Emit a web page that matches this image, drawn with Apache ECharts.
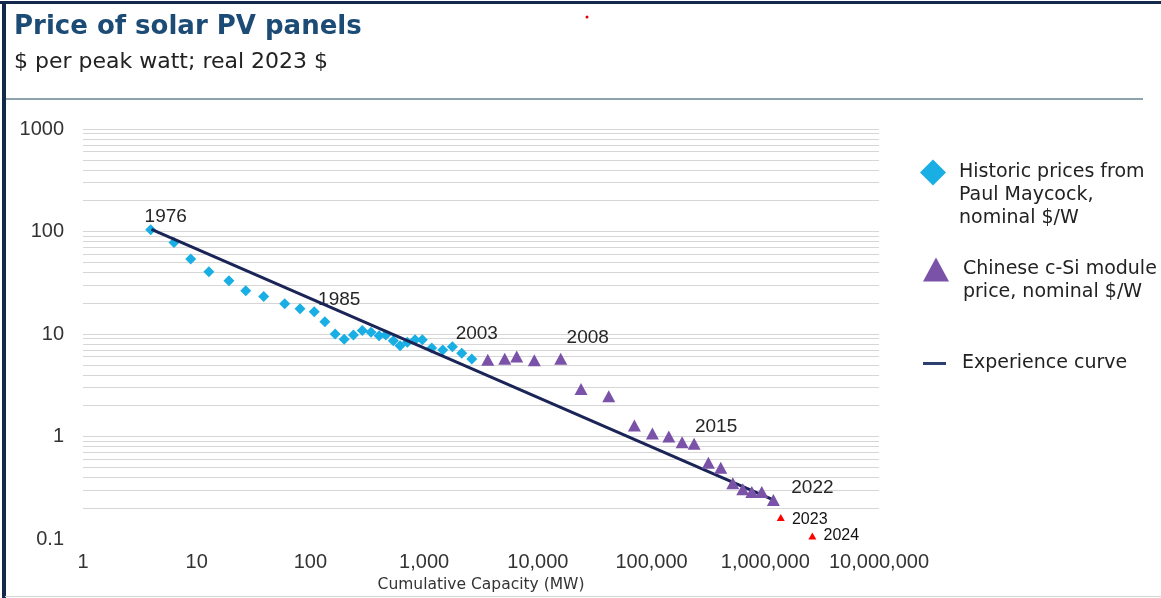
<!DOCTYPE html>
<html>
<head>
<meta charset="utf-8">
<script src="https://cdn.jsdelivr.net/npm/echarts@6/dist/echarts.min.js"></script>
<style>
html,body{margin:0;padding:0;background:#fff;}
#chart{width:1161px;height:598px;}
</style>
</head>
<body>
<div id="chart"></div>
<script>
// ---- Data (cumulative capacity MW, price $/W) ----
const historicYears = [1976,1977,1978,1979,1980,1981,1982,1983,1984,1985,1986,1987,1988,1989,1990,1991,1992,1993,1994,1995,1996,1997,1998,1999,2000,2001,2002,2003];
const historicCapacity = [3.94,6.31,8.85,12.8,19.2,27.0,38.8,59.4,81.0,108,134,165,198,239,286,341,402,460,536,614,712,832,964,1166,1458,1771,2142,2624];
const historicPrice = [104,78,54,40.6,33,26.4,23.2,19.7,17.6,16.5,13.2,10,8.9,9.8,10.8,10.4,9.6,9.8,8.6,7.7,8.3,8.8,8.8,7.3,7.0,7.5,6.5,5.7];

const chinaYears = [2004,2005,2006,2007,2008,2009,2010,2011,2012,2013,2014,2015,2016,2017,2018,2019,2020,2021,2022];
const chinaCapacity = [3626,5114,6516,9310,15890,23970,42030,70630,101700,141800,185600,236700,316000,406000,518000,634000,761000,931000,1178000];
const chinaPrice = [5.61,5.74,6.04,5.53,5.74,2.91,2.47,1.28,1.07,1.0,0.88,0.85,0.555,0.496,0.349,0.305,0.287,0.287,0.240];

const recentYears = [2023,2024];
const recentCapacity = [1368000,2594000];
const recentPrice = [0.162,0.107];

const experienceCapacity = [4,1150000];
const experiencePrice = [105,0.244];

const labelledYears = [1976,1985,2003,2008,2015,2022,2023,2024];

const NAME_HIST = 'Historic prices from\nPaul Maycock,\nnominal $/W';
const NAME_CHINA = 'Chinese c-Si module\nprice, nominal $/W';
const NAME_EXP = 'Experience curve';

// label offsets (style only)
const labelOffsets = {1976:[15,-13],1985:[25,-12],2003:[5,-25],2008:[27,-21],2015:[22,-17],2022:[39,-12],2023:[29,2],2024:[29,0]};

function buildPoints(years, caps, prices, small) {
  return years.map((yr, i) => {
    const item = { value: [caps[i], prices[i]] };
    if (labelledYears.indexOf(yr) >= 0) {
      item.label = {
        show: true, position: 'inside', formatter: String(yr),
        offset: labelOffsets[yr],
        color: small ? '#111' : '#262626',
        textBorderWidth: 0, textBorderColor: 'transparent', textShadowBlur: 0,
        fontFamily: 'Liberation Sans', fontSize: small ? 16 : 19
      };
    }
    return item;
  });
}

// log grid lines at 1..9 x each decade
const gridValues = [];
for (let d = -1; d <= 2; d++) {
  for (let k = 1; k <= 9; k++) {
    const v = +(k * Math.pow(10, d)).toPrecision(3);
    if (v > 0.1 + 1e-9) gridValues.push(v);
  }
}
gridValues.push(1000);

// legend labels: blank lines in front so the icon sits beside the first text line
function legendLabel(name) {
  const n = name.split('\n').length;
  return '\n'.repeat(n - 1) + name;
}

const chart = echarts.init(document.getElementById('chart'), null, {renderer: 'canvas'});

const legendText = {color: '#222', fontFamily: 'DejaVu Sans', fontSize: 19, lineHeight: 23};

const option = {
  backgroundColor: '#fff',
  animation: false,
  title: {
    text: 'Price of solar PV panels',
    subtext: '$ per peak watt; real 2023 $',
    left: 9, top: 6, itemGap: 6,
    textStyle: {color: '#1c4b76', fontFamily: 'DejaVu Sans', fontWeight: 'bold', fontSize: 26, lineHeight: 32},
    subtextStyle: {color: '#222', fontFamily: 'DejaVu Sans', fontSize: 22, lineHeight: 26}
  },
  legend: [
    {data: [NAME_HIST], left: 920, top: 115, padding: 0, orient: 'vertical', selectedMode: false,
     itemWidth: 26, itemHeight: 26, icon: 'diamond', formatter: legendLabel,
     itemStyle: {opacity: 1},
     textStyle: Object.assign({}, legendText, {padding: [0, 0, 0, 8]})},
    {data: [NAME_CHINA], left: 923, top: 235, padding: 0, orient: 'vertical', selectedMode: false,
     itemWidth: 26, itemHeight: 24, icon: 'triangle', formatter: legendLabel,
     itemStyle: {opacity: 1},
     textStyle: Object.assign({}, legendText, {padding: [0, 0, 0, 9]})},
    {data: [NAME_EXP], left: 923, top: 352, padding: 0, orient: 'vertical', selectedMode: false,
     itemWidth: 23, itemHeight: 3, icon: 'rect', formatter: legendLabel,
     textStyle: Object.assign({}, legendText, {padding: [0, 0, 0, 11]})}
  ],
  grid: {left: 83, right: 282, top: 129, bottom: 59, containLabel: false},
  xAxis: {
    type: 'log', logBase: 10, min: 1, max: 10000000,
    name: 'Cumulative Capacity (MW)', nameLocation: 'middle', nameGap: 30,
    nameTextStyle: {color: '#333', fontFamily: 'DejaVu Sans', fontSize: 15.5},
    axisLine: {show: false}, axisTick: {show: false}, splitLine: {show: false},
    axisLabel: {
      color: '#333', fontFamily: 'Liberation Sans', fontSize: 20, margin: 13,
      formatter: v => Math.round(v).toString().replace(/\B(?=(\d{3})+(?!\d))/g, ',')
    }
  },
  yAxis: {
    type: 'log', logBase: 10, min: 0.1, max: 1000,
    axisLine: {show: false}, axisTick: {show: false}, splitLine: {show: false},
    axisLabel: {
      color: '#333', fontFamily: 'Liberation Sans', fontSize: 20, margin: 19,
      formatter: v => v < 1 ? (+v).toFixed(1) : String(Math.round(v))
    }
  },
  series: [
    {
      name: 'grid', type: 'line', data: [], silent: true, z: 0,
      markLine: {
        z: 0, silent: true, symbol: 'none', animation: false,
        label: {show: false},
        lineStyle: {color: '#d6d6d6', width: 1, type: 'solid'},
        data: gridValues.map(v => ({yAxis: v}))
      }
    },
    {
      name: NAME_EXP, type: 'line', z: 3, symbol: 'none',
      color: '#1b2456',
      lineStyle: {color: '#1b2456', width: 3},
      itemStyle: {color: '#2c3f70'},
      data: experienceCapacity.map((c, i) => [c, experiencePrice[i]])
    },
    {
      name: NAME_HIST, type: 'scatter', z: 2, symbol: 'diamond', symbolSize: [11, 11],
      itemStyle: {color: '#19aee4', opacity: 1},
      data: buildPoints(historicYears, historicCapacity, historicPrice, false)
    },
    {
      name: NAME_CHINA, type: 'scatter', z: 4, symbol: 'triangle', symbolSize: [13, 12],
      itemStyle: {color: '#7a52a8', opacity: 1},
      data: buildPoints(chinaYears, chinaCapacity, chinaPrice, false)
    },
    {
      name: 'Recent', type: 'scatter', z: 4, symbol: 'triangle', symbolSize: [8, 7],
      itemStyle: {color: '#ff0000', opacity: 1},
      data: buildPoints(recentYears, recentCapacity, recentPrice, true)
    }
  ],
  graphic: [
    {type: 'rect', shape: {x: 0, y: 1, width: 1161, height: 3}, style: {fill: '#13294b'}, silent: true},
    {type: 'rect', shape: {x: 2, y: 1, width: 4, height: 597}, style: {fill: '#13294b'}, silent: true},
    {type: 'rect', shape: {x: 5, y: 596, width: 1156, height: 1}, style: {fill: '#d4d4d4'}, silent: true},
    {type: 'rect', shape: {x: 6, y: 98, width: 1137, height: 2}, style: {fill: '#8fa3ae'}, silent: true},
    {type: 'circle', shape: {cx: 587, cy: 17, r: 1.5}, style: {fill: '#e00000'}, silent: true}
  ]
};
chart.setOption(option);
</script>
</body>
</html>
